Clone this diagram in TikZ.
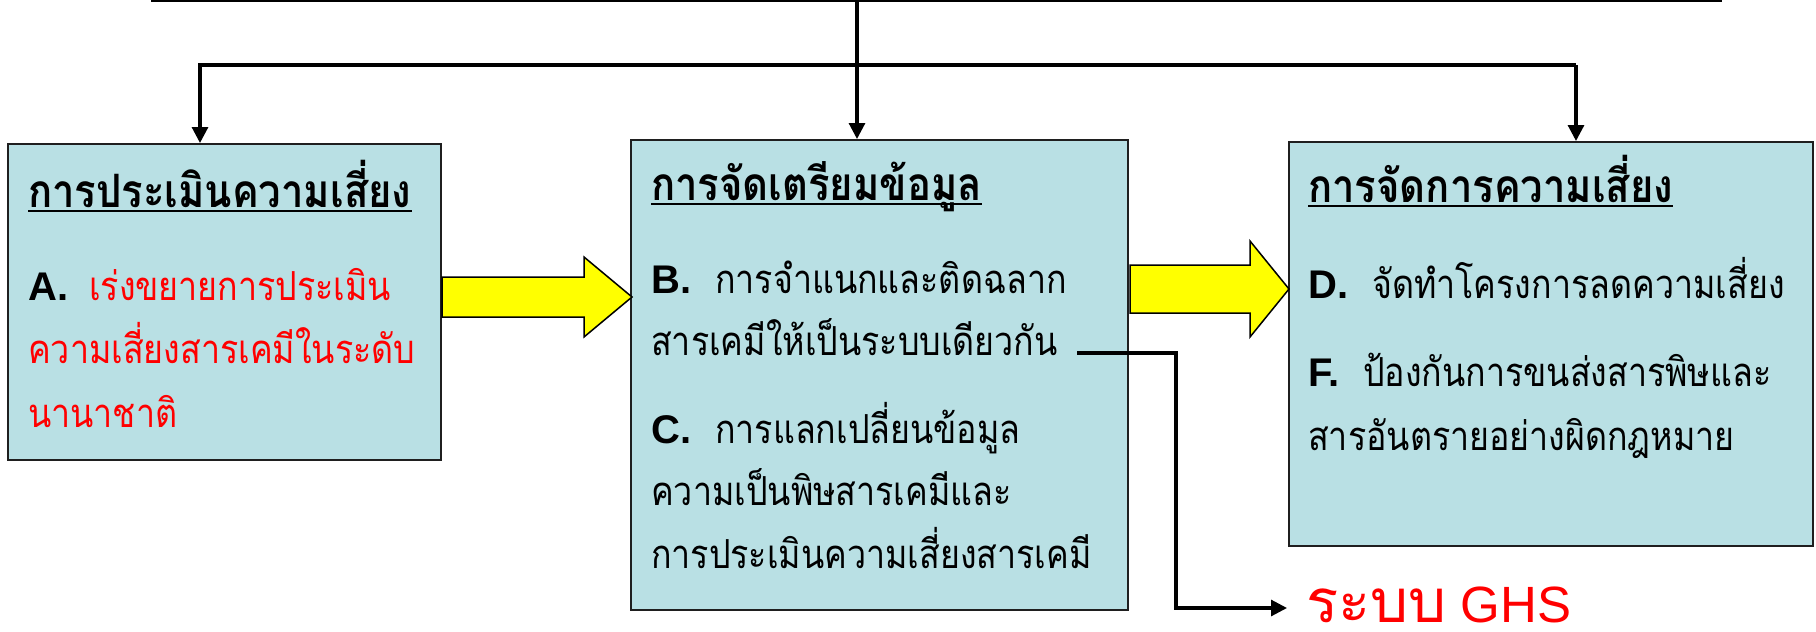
\documentclass[tikz,border=0pt]{standalone}
\usepackage{fontspec}
\setmainfont{Liberation Sans}
\newfontfamily\thai[Script=Thai, FakeStretch=0.85]{Loma}
\newfontfamily\thaititle[Script=Thai, FakeStretch=0.87]{Loma}
\newfontfamily\thaibig[Script=Thai]{Loma}
\usetikzlibrary{arrows.meta}
\definecolor{boxfill}{RGB}{185,224,228}
\definecolor{myred}{RGB}{255,0,0}
\definecolor{myyellow}{RGB}{255,255,0}
\begin{document}
\begin{tikzpicture}[x=1pt,y=-1pt,
  panel/.style={draw=black!88, line width=2pt, fill=boxfill, inner sep=0pt},
  conn/.style={line width=3.1pt, draw=black},
  arr/.style={conn, -{Triangle[length=16pt,width=16pt]}},
  fat/.style={draw=black, line width=1.5pt, fill=myyellow, line join=miter},
  txt/.style={anchor=base west, inner sep=0pt, font=\thai\fontsize{40}{40}\selectfont},
  ttl/.style={anchor=base west, inner sep=0pt, font=\thaititle\bfseries\fontsize{46}{46}\selectfont},
  lbl/.style={anchor=base west, inner sep=0pt, font=\bfseries\fontsize{40}{40}\selectfont},
  uline/.style={line width=2.2pt, draw=black}
]
\useasboundingbox (0,0) rectangle (1816,632);

% boxes
\node[panel, anchor=north west, minimum width=433pt, minimum height=316pt] (boxA) at (7,143) {};
\node[panel, anchor=north west, minimum width=497pt, minimum height=470pt] (boxB) at (630,139) {};
\node[panel, anchor=north west, minimum width=524pt, minimum height=404pt] (boxC) at (1288,141) {};

% top connectors
\coordinate (topL) at (151,0.9);
\coordinate (topR) at (1722,0.9);
\coordinate (topC) at (857,0.9);
\coordinate (hL) at (200,65);
\coordinate (hR) at (1576,65);
\draw[line width=1.8pt] (topL) -- (topR);
\draw[arr] (topC) -- (topC |- boxB.north);
\draw[arr] (hR) -- (hL) -- (hL |- boxA.north);
\draw[arr] (hR) -- (hR |- boxC.north);

% yellow arrows
\draw[fat] (442,277) -- (584,277) -- (584,257) -- (632,297) -- (584,337) -- (584,317) -- (442,317) -- cycle;
\draw[fat] (1130,265) -- (1250,265) -- (1250,241) -- (1289,289) -- (1250,337) -- (1250,313) -- (1130,313) -- cycle;

% box A text
\node[ttl] (tA) at (28,207) {การประเมินความเสี่ยง};
\draw[uline] ([yshift=-4pt]tA.base west) -- ([yshift=-4pt]tA.base east);
\node[lbl] (la) at (28,300) {A.};
\node[txt, text=myred] (a1) at (89,300) {เร่งขยายการประเมิน};
\node[txt, text=myred] (a2) at (28,363) {ความเสี่ยงสารเคมีในระดับ};
\node[txt, text=myred] (a3) at (28,427) {นานาชาติ};

% box B text
\node[ttl] (tB) at (651,200) {การจัดเตรียมข้อมูล};
\draw[uline] ([yshift=-4pt]tB.base west) -- ([yshift=-4pt]tB.base east);
\node[lbl] (lb) at (651,293) {B.};
\node[txt] (b1) at (715,293) {การจำแนกและติดฉลาก};
\node[txt] (b2) at (651,355) {สารเคมีให้เป็นระบบเดียวกัน};
\node[lbl] (lc) at (651,443) {C.};
\node[txt] (c1) at (715,443) {การแลกเปลี่ยนข้อมูล};
\node[txt] (c2) at (651,505) {ความเป็นพิษสารเคมีและ};
\node[txt] (c3) at (651,568) {การประเมินความเสี่ยงสารเคมี};

% box C text
\node[ttl] (tC) at (1308,202) {การจัดการความเสี่ยง};
\draw[uline] ([yshift=-4pt]tC.base west) -- ([yshift=-4pt]tC.base east);
\node[lbl] (ld) at (1308,298) {D.};
\node[txt] (d1) at (1372,298) {จัดทำโครงการลดความเสี่ยง};
\node[lbl] (lf) at (1308,386) {F.};
\node[txt] (f1) at (1363,386) {ป้องกันการขนส่งสารพิษและ};
\node[txt] (f2) at (1308,450) {สารอันตรายอย่างผิดกฎหมาย};

% GHS
\node[anchor=base west, inner sep=0pt, text=myred] (ghs) at (1306,622) {{\thaibig\fontsize{60}{60}\selectfont ระบบ}\hspace{14pt}{\fontsize{51}{51}\selectfont GHS}};
\coordinate (gs) at (1077,353);
\draw[arr] (gs) -- (1176,353) |- ([xshift=-19pt,yshift=14pt]ghs.base west);
\end{tikzpicture}
\end{document}
